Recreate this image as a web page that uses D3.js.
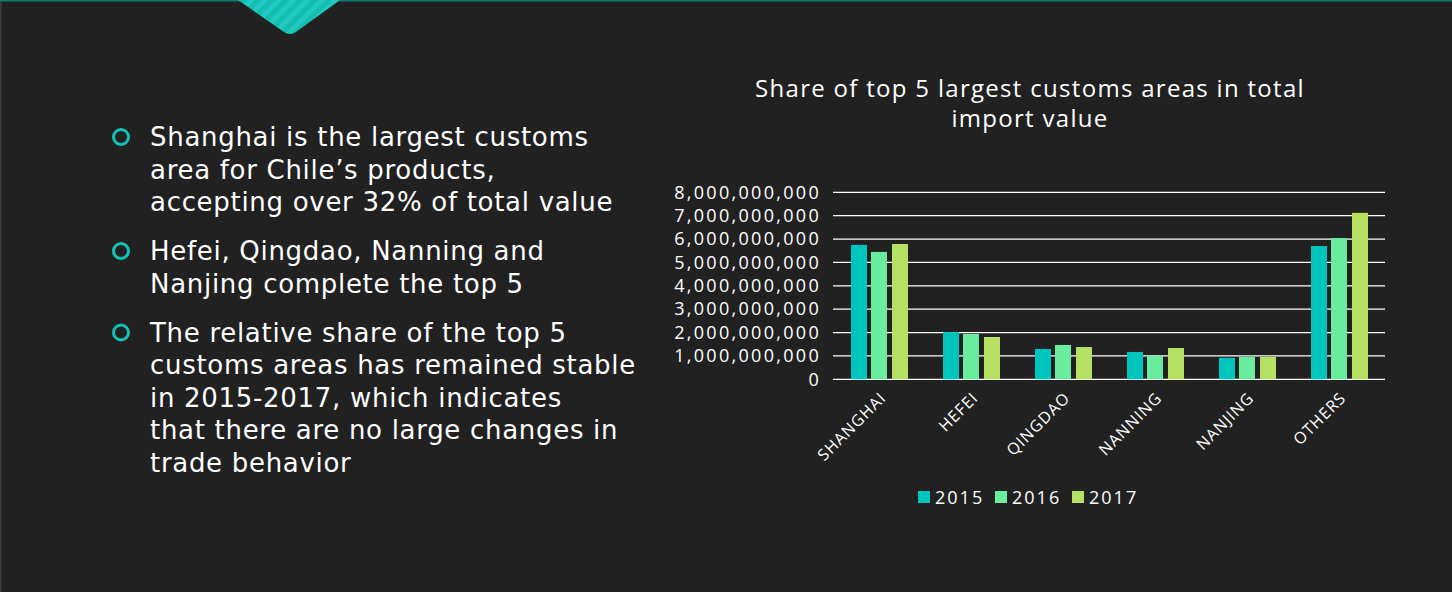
<!DOCTYPE html>
<html><head><meta charset="utf-8">
<script src="https://cdn.jsdelivr.net/npm/d3@7"></script>
<style>
html,body{margin:0;padding:0;background:#212121;overflow:hidden}
text{font-family:"Open Sans",sans-serif}
text.bl{font-family:"DejaVu Sans",sans-serif}
</style></head>
<body><svg id="c" width="1452" height="592"></svg>
<script>
const categories = ["SHANGHAI","HEFEI","QINGDAO","NANNING","NANJING","OTHERS"];
const seriesNames = ["2015","2016","2017"];
const v2015 = [5.75e9, 2.02e9, 1.30e9, 1.17e9, 0.92e9, 5.70e9];
const v2016 = [5.45e9, 1.94e9, 1.47e9, 1.00e9, 0.96e9, 6.04e9];
const v2017 = [5.79e9, 1.81e9, 1.38e9, 1.34e9, 0.96e9, 7.12e9];
const yTicks = [0,1e9,2e9,3e9,4e9,5e9,6e9,7e9,8e9];
const colors = ["#00C5BC","#6BEB9E","#B5E061"];
const titleLines = ["Share of top 5 largest customs areas in total","import value"];
const bullets = [
  ["Shanghai is the largest customs","area for Chile’s products,","accepting over 32% of total value"],
  ["Hefei, Qingdao, Nanning and","Nanjing complete the top 5"],
  ["The relative share of the top 5","customs areas has remained stable","in 2015-2017, which indicates","that there are no large changes in","trade behavior"]
];

const svg = d3.select("#c");
svg.append("rect").attr("width",1452).attr("height",592).attr("fill","#212121");
svg.append("rect").attr("x",0).attr("y",0).attr("width",1.5).attr("height",592).attr("fill","#3a3a3a");
svg.append("rect").attr("x",0).attr("y",0).attr("width",1452).attr("height",1.5).attr("fill","#0f7a6f");

// striped triangle
const defs = svg.append("defs");
const pat = defs.append("pattern").attr("id","stripes").attr("patternUnits","userSpaceOnUse")
  .attr("width",10).attr("height",10).attr("patternTransform","rotate(45)");
pat.append("rect").attr("width",10).attr("height",10).attr("fill","#1fcabe");
pat.append("rect").attr("width",5).attr("height",10).attr("fill","#14bcb1");
svg.append("path").attr("d","M238,0 L340,0 L296,32 Q290,36 284,32 Z").attr("fill","url(#stripes)");

// bullets
let yy = 137;
bullets.forEach((para,pi)=>{
  svg.append("circle").attr("cx",121).attr("cy",yy).attr("r",7.5).attr("fill","none").attr("stroke","#13c2b6").attr("stroke-width",3);
  para.forEach((line,li)=>{
    svg.append("text").attr("class","bl").attr("x",150).attr("y",yy+li*32.5).attr("dy","0.36em")
      .attr("fill","#fff").attr("font-size",26).attr("letter-spacing",0.7).text(line);
  });
  yy += para.length*32.5 + 16.5;
});

// title
titleLines.forEach((t,i)=>{
  svg.append("text").attr("x",1030).attr("y",89+i*30).attr("dy","0.35em").attr("text-anchor","middle")
    .attr("fill","#fff").attr("font-size",24).attr("letter-spacing",1.3).text(t);
});

// chart
const x0 = d3.scaleBand().domain(categories).range([833,1385]).paddingInner(0).paddingOuter(0);
const y = d3.scaleLinear().domain([0,8e9]).range([379.3,192.3]);
const g = svg.append("g");
g.selectAll("line.grid").data(yTicks).join("line").attr("class","grid")
  .attr("x1",833).attr("x2",1385).attr("y1",d=>y(d)).attr("y2",d=>y(d))
  .attr("stroke","#fff").attr("stroke-width",1.3);
const fmt = d3.format(",");
g.selectAll("text.yt").data(yTicks).join("text").attr("class","yt")
  .attr("x",821).attr("y",d=>y(d)).attr("dy","0.35em").attr("text-anchor","end")
  .attr("fill","#fff").attr("font-size",18).attr("letter-spacing",2.3).text(d=>fmt(d));

const series = [v2015,v2016,v2017];
const offsets = [-28,-8,13];
series.forEach((vals,si)=>{
  g.selectAll("rect.s"+si).data(categories).join("rect").attr("class","s"+si)
    .attr("x",(c)=>x0(c)+x0.bandwidth()/2+offsets[si]).attr("width",16)
    .attr("y",(c,i)=>y(vals[i])).attr("height",(c,i)=>y(0)-y(vals[i]))
    .attr("fill",colors[si]);
});

g.selectAll("text.xl").data(categories).join("text").attr("class","xl")
  .attr("transform",c=>`translate(${x0(c)+x0.bandwidth()/2+8},${399}) rotate(-45)`)
  .attr("text-anchor","end").attr("fill","#fff").attr("font-size",16).attr("letter-spacing",1).text(c=>c);

// legend
const legX = [918,995,1072];
seriesNames.forEach((s,i)=>{
  svg.append("rect").attr("x",legX[i]).attr("y",491).attr("width",12).attr("height",12).attr("fill",colors[i]);
  svg.append("text").attr("x",legX[i]+17).attr("y",498).attr("dy","0.35em").attr("fill","#fff").attr("font-size",18).attr("letter-spacing",2).text(s);
});
</script></body></html>
